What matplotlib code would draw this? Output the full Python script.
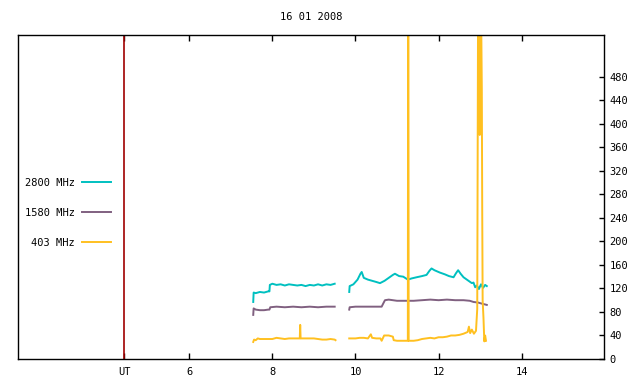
import numpy as np
import matplotlib
matplotlib.use("Agg")
import matplotlib.pyplot as plt

# hours UT, flux values (nan = data gap)
nan = np.nan

t_2800 = [7.54, 7.55, 7.6, 7.7, 7.8, 7.9, 7.93, 7.94, 8.0, 8.1, 8.2, 8.3, 8.4, 8.5, 8.6, 8.7,
          8.8, 8.9, 9.0, 9.1, 9.2, 9.3, 9.4, 9.5, 9.7,
          9.85, 9.86, 9.95, 10.05, 10.12, 10.15, 10.2, 10.3, 10.4, 10.5, 10.59, 10.7, 10.8,
          10.9, 10.95, 11.05, 11.15, 11.26, 11.35, 11.47, 11.6, 11.71, 11.78, 11.83, 11.9,
          12.03, 12.15, 12.25, 12.36, 12.42, 12.47, 12.53, 12.6, 12.7, 12.8, 12.84, 12.88,
          12.92, 12.97, 13.02, 13.07, 13.12, 13.16]
v_2800 = [97, 113, 112, 114, 113, 115, 115, 126, 128, 126, 127, 125, 127, 126, 125, 126,
          124, 126, 125, 127, 125, 127, 126, 128, nan,
          114, 124, 127, 135, 145, 148, 138, 135, 133, 131, 129, 133, 138,
          143, 145, 141, 140, 135, 137, 139, 141, 143, 150, 154, 151,
          147, 144, 141, 139, 146, 151, 145, 139, 134, 129, 130, 122,
          125, 119, 127, 121, 126, 124]

t_1580 = [7.54, 7.55, 7.6, 7.7, 7.8, 7.9, 7.93, 7.95, 8.1, 8.3, 8.5, 8.7, 8.9, 9.1, 9.3, 9.5, 9.7,
          9.85, 9.86, 10.0, 10.2, 10.4, 10.63, 10.68, 10.71, 10.8, 11.0, 11.2, 11.4, 11.6,
          11.8, 12.0, 12.2, 12.4, 12.6, 12.75, 12.84, 12.95, 13.05, 13.16]
v_1580 = [75, 86, 84, 83, 83, 84, 84, 88, 89, 88, 89, 88, 89, 88, 89, 89, nan,
          84, 88, 89, 89, 89, 89, 96, 100, 101, 99, 99, 99, 100,
          101, 100, 101, 100, 100, 99, 97, 96, 94, 92]

t_403 = [7.54, 7.56, 7.6, 7.65, 7.7, 7.8, 8.0, 8.1, 8.2, 8.3, 8.4, 8.5, 8.66, 8.67, 8.68,
         8.8, 8.9, 9.0, 9.1, 9.2, 9.3, 9.4, 9.5, 9.52, 9.7,
         9.85, 9.9, 10.0, 10.1, 10.2, 10.3, 10.37, 10.4, 10.5, 10.6, 10.63, 10.69, 10.8,
         10.9, 10.92, 11.0, 11.2, 11.26, 11.27, 11.28, 11.4, 11.5, 11.6, 11.7, 11.8, 11.9,
         12.0, 12.1, 12.2, 12.3, 12.4, 12.5, 12.6, 12.7, 12.73, 12.76, 12.8, 12.85, 12.9,
         12.93, 12.95, 12.96, 12.97, 12.99, 13.0, 13.01, 13.02, 13.04, 13.05, 13.06, 13.08,
         13.1, 13.12, 13.14]
v_403 = [29, 33, 32, 35, 34, 34, 34, 36, 35, 34, 35, 35, 35, 58, 35,
         35, 35, 35, 34, 33, 33, 34, 33, 32, nan,
         35, 35, 35, 36, 36, 35, 42, 36, 35, 35, 31, 40, 40,
         38, 32, 31, 31, 31, 900, 31, 31, 32, 34, 35, 36, 35,
         37, 37, 38, 40, 40, 41, 43, 46, 55, 44, 50, 43, 48,
         85, 600, 520, 560, 381, 600, 480, 620, 459, 250, 100, 70,
         30, 40, 31]

ut_hour = 4.44
x_ticks = [ut_hour, 6, 8, 10, 12, 14]
x_labels = ["UT", "6", "8", "10", "12", "14"]
y_ticks = list(range(0, 481, 40))

plt.rcParams["font.family"] = "DejaVu Sans Mono"
plt.rcParams["font.size"] = 7.5

fig = plt.figure(figsize=(6.4, 3.84), dpi=100)
ax = fig.add_axes([18 / 640, 1 - 359 / 384, 586 / 640, 324 / 384])

ax.plot(t_2800, v_2800, color="#00c0c0", lw=1.4, label="2800 MHz")
ax.plot(t_1580, v_1580, color="#806080", lw=1.4, label="1580 MHz")
ax.plot(t_403, v_403, color="#ffc020", lw=1.4, label="403 MHz")
ax.axvline(ut_hour, color="#a00000", lw=1.2)

ax.set_xlim(1.88, 15.98)
ax.set_ylim(0, 551)

ax.set_xticks(x_ticks)
ax.set_xticklabels(x_labels)
ax.tick_params(axis="x", direction="in", length=4, width=1, top=True, pad=6)
ax.yaxis.tick_right()
ax.set_yticks(y_ticks)
ax.tick_params(axis="y", direction="in", length=3.5, width=1, left=False, right=True, pad=4)
for s in ax.spines.values():
    s.set_linewidth(1)

ax.set_title("16 01 2008", fontsize=7.5, pad=11)

ax.legend(loc="center right", bbox_to_anchor=(0.159, 0.451), frameon=False,
          markerfirst=False, handlelength=2.8, handletextpad=0.7,
          labelspacing=1.9, borderpad=0, borderaxespad=0)

fig.savefig("out.png", dpi=100)
